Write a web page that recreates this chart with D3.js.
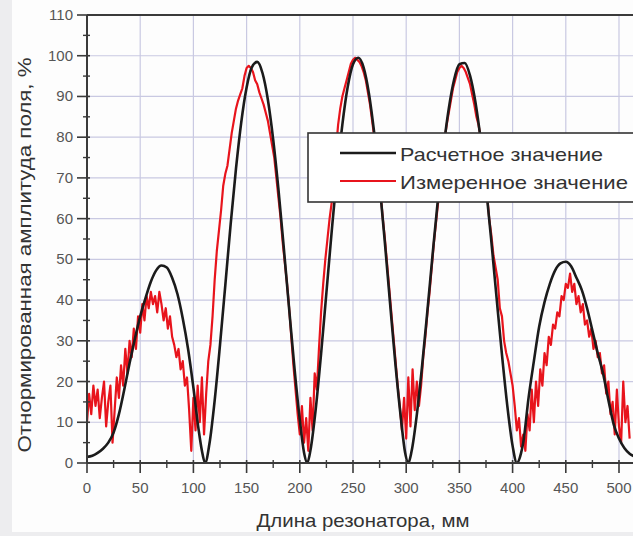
<!DOCTYPE html>
<html>
<head>
<meta charset="utf-8">
<script src="https://cdn.jsdelivr.net/npm/d3@7"></script>
<style>
  body { margin: 0; background: #fff; }
  text { font-family: "Liberation Sans", Arial, sans-serif; }
</style>
</head>
<body>
<div id="graphic"></div>
<script>
// calculated field amplitude (black)
var calcX = [0, 5, 10, 15, 20, 25, 30, 35, 40, 45, 50, 55, 60, 65, 70, 75, 80, 85, 90, 95, 100, 105, 108, 111,
  115, 120, 125, 130, 135, 140, 145, 150, 155, 160, 165, 170, 175, 180, 185, 190, 195, 200, 204, 207,
  210, 215, 220, 225, 230, 235, 240, 245, 250, 255, 260, 265, 270, 275, 280, 285, 290, 295, 299, 302,
  305, 310, 315, 320, 325, 330, 335, 340, 345, 350, 355, 360, 365, 370, 375, 380, 385, 390, 395, 400, 404,
  408, 410, 415, 420, 425, 430, 435, 440, 445, 450, 455, 460, 465, 470, 475, 480, 485, 490, 495, 500, 505, 510, 515, 520];
var calcY = [1.5, 1.8, 2.5, 3.5, 5, 7.5, 12, 18, 24.5, 30.5, 36, 40.5, 44.5, 47.3, 48.5, 48, 45.5, 41.5, 35.5, 28, 18.5, 8, 3, 0,
  4.6, 15.4, 29, 43.7, 58.6, 72.2, 83.7, 92.2, 97.2, 98.5, 95.7, 89.2, 79.4, 67, 52.7, 37.8, 23.3, 10.6, 2.5, 0,
  3.1, 13.3, 26.8, 41.8, 56.9, 71.1, 83.1, 92.3, 97.9, 99.5, 97.1, 90.7, 80.9, 68.5, 54, 38.7, 23.9, 11, 2.5, 0,
  2.8, 11.9, 24, 37.6, 51.7, 65.2, 77.2, 87, 94.1, 97.9, 98.2, 95.1, 88.7, 79.4, 67.8, 54.5, 40.4, 26.6, 14.1, 4.2, 0,
  2.5, 5, 16, 25, 33.5, 39.5, 44, 47.3, 49, 49.4, 48.3, 45.5, 42.5, 38, 32.5, 27, 22, 15.5, 9.5, 6, 3.7, 2.3, 1.5, 1];

// measured field amplitude (red), every 2 mm from 0 to 510
var measStep = 2;
var measY = [10, 17, 12, 19, 14, 18, 11, 16, 20, 9, 15, 19, 5, 13, 21, 16, 24, 19, 28, 22,
  30, 26, 33, 28, 36, 32, 39, 35, 41, 38, 42, 39, 41, 37, 42, 39, 35, 38, 33, 36,
  31, 29, 26, 28, 23, 25, 19, 21, 13, 3, 16, 8, 19, 10, 21, 7, 17, 25, 29, 36,
  45, 52, 57, 62, 68, 71, 73, 77, 81, 84, 87, 89, 90.5, 92, 95, 97, 97.5, 97, 96, 94,
  93, 91, 89.5, 88, 86, 84, 81, 78, 75, 70, 65, 60, 54, 49, 44, 38, 31, 24, 18, 12,
  7, 14, 5, 11, 3, 16, 8, 22, 18, 28, 37, 44, 50, 55, 60, 64, 70, 77, 83, 87,
  90, 92, 94, 96, 98, 99, 99.5, 99, 98.5, 97.5, 96, 94, 91, 88, 84, 80, 76, 71, 66, 60,
  55, 49, 43, 37, 31, 25, 19, 14, 8, 16, 6, 21, 9, 23, 13, 20, 14, 19, 26, 31,
  37, 42, 48, 54, 59, 64, 69, 74, 79, 83, 86, 89, 92, 94, 96, 97, 97.5, 97, 96, 94.5,
  93, 90.5, 88, 85, 83, 80, 76, 71, 66, 60, 56, 51, 48, 45, 38, 36, 30, 27, 25, 22,
  19, 14, 8, 11, 4, 7, 3, 12, 8, 18, 10, 20, 14, 23, 19, 27, 24, 31, 29, 34,
  33, 37, 36, 41, 40, 44, 43, 46.5, 42, 44, 39, 41, 37, 39, 34, 35, 31, 33, 28, 30,
  26, 27, 22, 24, 17, 20, 12, 15, 7, 18, 9, 5, 20, 10, 14, 6];

var xTicks = [0, 50, 100, 150, 200, 250, 300, 350, 400, 450, 500];
var xMinor = [25, 75, 125, 175, 225, 275, 325, 375, 425, 475];
var yTicks = [0, 10, 20, 30, 40, 50, 60, 70, 80, 90, 100, 110];
var yMinor = [5, 15, 25, 35, 45, 55, 65, 75, 85, 95, 105];

var seriesNames = ["Расчетное значение", "Измеренное значение"];
var seriesColors = ["#1b1b1b", "#e8141c"];
var legendWidths = [203, 228];

var width = 633,
    height = 536;

var margin = {
    top: 15,
    left: 87,
    bottom: 463
};

var svg = d3.select("#graphic")
    .append("svg")
    .attr("width", width)
    .attr("height", height);

// slide-like background
svg.append("rect").attr("width", width).attr("height", height).attr("fill", "#ededef");
svg.append("rect").attr("x", 12).attr("y", 0).attr("width", width - 12).attr("height", 532).attr("fill", "#fdfdfd");

var x = d3.scaleLinear()
    .domain([0, 500])
    .range([margin.left, 619]);

var y = d3.scaleLinear()
    .domain([0, 110])
    .range([margin.bottom, margin.top]);

// grid
svg.append("g")
    .selectAll("line")
    .data(xTicks.slice(1))
    .enter().append("line")
    .attr("x1", d => x(d)).attr("x2", d => x(d))
    .attr("y1", y(0)).attr("y2", y(110))
    .attr("stroke", "#c9c9e2").attr("stroke-width", 1.2);

svg.append("g")
    .selectAll("line")
    .data(yTicks.slice(1, -1))
    .enter().append("line")
    .attr("x1", x(0)).attr("x2", width)
    .attr("y1", d => y(d)).attr("y2", d => y(d))
    .attr("stroke", "#c9c9e2").attr("stroke-width", 1.2);

svg.append("defs").append("clipPath").attr("id", "plot")
    .append("rect")
    .attr("x", x(0)).attr("y", y(110))
    .attr("width", width - x(0)).attr("height", y(0) - y(110));

var plot = svg.append("g").attr("clip-path", "url(#plot)");

var measLine = d3.line()
    .x((d, i) => x(i * measStep))
    .y(d => y(d));

plot.append("path")
    .datum(measY)
    .attr("fill", "none")
    .attr("stroke", seriesColors[1])
    .attr("stroke-width", 2.2)
    .attr("stroke-linejoin", "round")
    .attr("d", measLine);

var calcLine = d3.line()
    .x((d, i) => x(calcX[i]))
    .y(d => y(d))
    .curve(d3.curveMonotoneX);

plot.append("path")
    .datum(calcY)
    .attr("fill", "none")
    .attr("stroke", seriesColors[0])
    .attr("stroke-width", 2.6)
    .attr("d", calcLine);

// axes frame
var axisColor = "#3a3a3a";
svg.append("line")
    .attr("x1", x(0)).attr("x2", width)
    .attr("y1", y(0)).attr("y2", y(0))
    .attr("stroke", axisColor).attr("stroke-width", 2);
svg.append("line")
    .attr("x1", x(0)).attr("x2", width)
    .attr("y1", y(110)).attr("y2", y(110))
    .attr("stroke", axisColor).attr("stroke-width", 2);
svg.append("line")
    .attr("x1", x(0)).attr("x2", x(0))
    .attr("y1", y(0)).attr("y2", y(110))
    .attr("stroke", axisColor).attr("stroke-width", 2);

// ticks
svg.append("g").selectAll("line")
    .data(xTicks).enter().append("line")
    .attr("x1", d => x(d)).attr("x2", d => x(d))
    .attr("y1", y(0) - 3).attr("y2", y(0) + 10)
    .attr("stroke", axisColor).attr("stroke-width", 1.6);
svg.append("g").selectAll("line")
    .data(xMinor).enter().append("line")
    .attr("x1", d => x(d)).attr("x2", d => x(d))
    .attr("y1", y(0) - 3).attr("y2", y(0) + 5)
    .attr("stroke", axisColor).attr("stroke-width", 1.4);
svg.append("g").selectAll("line")
    .data(yTicks).enter().append("line")
    .attr("x1", x(0) - 10).attr("x2", x(0) + 3)
    .attr("y1", d => y(d)).attr("y2", d => y(d))
    .attr("stroke", axisColor).attr("stroke-width", 1.6);
svg.append("g").selectAll("line")
    .data(yMinor).enter().append("line")
    .attr("x1", x(0) - 4).attr("x2", x(0) + 3)
    .attr("y1", d => y(d)).attr("y2", d => y(d))
    .attr("stroke", axisColor).attr("stroke-width", 1.4);

// tick labels
svg.append("g").selectAll("text")
    .data(xTicks).enter().append("text")
    .attr("x", d => x(d))
    .attr("y", 493)
    .attr("text-anchor", "middle")
    .attr("font-size", 15)
    .attr("fill", "#555")
    .text(d => d);

svg.append("g").selectAll("text")
    .data(yTicks).enter().append("text")
    .attr("x", 73)
    .attr("y", d => y(d) + 5)
    .attr("text-anchor", "end")
    .attr("font-size", 15)
    .attr("fill", "#555")
    .text(d => d);

// axis titles
svg.append("text")
    .attr("x", 363)
    .attr("y", 527)
    .attr("text-anchor", "middle")
    .attr("font-size", 19)
    .attr("fill", "#333")
    .attr("textLength", 213)
    .attr("lengthAdjust", "spacingAndGlyphs")
    .text("Длина резонатора, мм");

svg.append("text")
    .attr("transform", "translate(31,255) rotate(-90)")
    .attr("text-anchor", "middle")
    .attr("font-size", 19)
    .attr("fill", "#333")
    .attr("textLength", 395)
    .attr("lengthAdjust", "spacingAndGlyphs")
    .text("Отнормированная амплитуда поля, %");

// legend
var legend = svg.append("g").attr("transform", "translate(308,133)");
legend.append("rect")
    .attr("width", 340).attr("height", 69)
    .attr("fill", "#fff")
    .attr("stroke", "#333").attr("stroke-width", 1.6);

legend.selectAll("line.key")
    .data(seriesNames).enter().append("line")
    .attr("class", "key")
    .attr("x1", 32).attr("x2", 88)
    .attr("y1", (d, i) => 20 + i * 28).attr("y2", (d, i) => 20 + i * 28)
    .attr("stroke", (d, i) => seriesColors[i])
    .attr("stroke-width", (d, i) => i ? 2 : 2.6);

legend.selectAll("text")
    .data(seriesNames).enter().append("text")
    .attr("x", 92)
    .attr("y", (d, i) => 28 + i * 28)
    .attr("font-size", 19)
    .attr("fill", "#333")
    .attr("textLength", (d, i) => legendWidths[i])
    .attr("lengthAdjust", "spacingAndGlyphs")
    .text(d => d);
</script>
</body>
</html>
